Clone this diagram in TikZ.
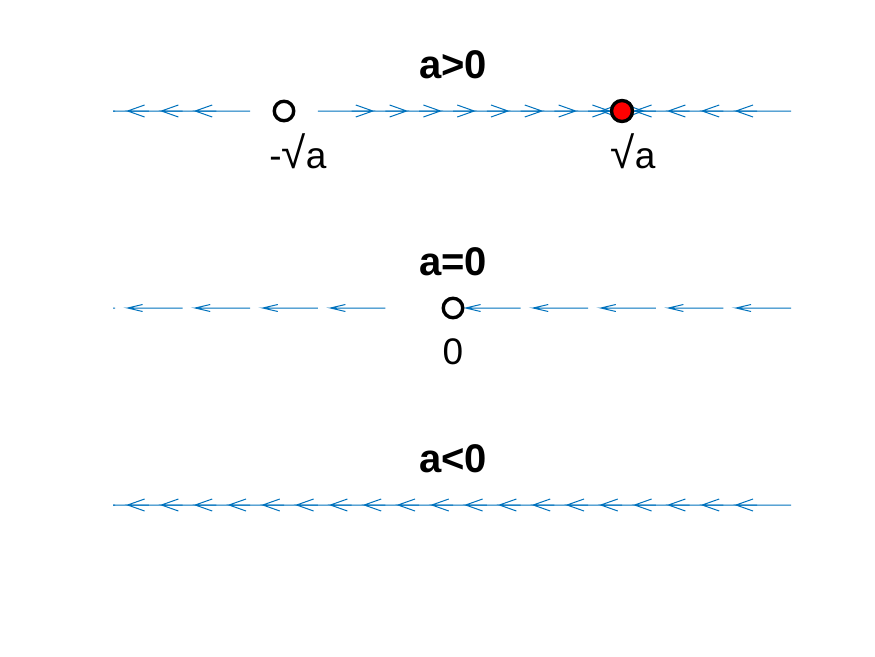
\documentclass[tikz,border=0pt]{standalone}
\usepackage{fontspec}
\setmainfont{Liberation Sans}
\definecolor{qblue}{RGB}{0,114,189}
\definecolor{fpred}{RGB}{255,0,0}
\tikzset{
  quiv/.style={draw=qblue, line width=1pt, line cap=butt},
  fixedopen/.style={circle, draw=black, line width=3.4pt, minimum size=19.5pt, inner sep=0pt},
  fixedfull/.style={circle, draw=black, fill=fpred, line width=3.4pt, minimum size=21pt, inner sep=0pt},
  ttl/.style={font=\fontsize{40}{46}\selectfont\bfseries, anchor=base, inner sep=0pt},
  lbl/.style={font=\fontsize{37}{44}\selectfont, anchor=base, inner sep=0pt}
}
\newcommand\surdsym{{\fontsize{44}{50}\selectfont √}}
% base x, y, direction (+1 right, -1 left), head length, head half-width
\newcommand\qarr[5]{%
  \draw[quiv] (#1,#2) -- ++({#3*55},0) -- ++({-#3*#4},#5) ++({#3*#4},{-#5}) -- ++({-#3*#4},{-#5});}
\begin{document}
\begin{tikzpicture}[x=1pt,y=-1pt]
\fill[white] (0,0) rectangle (875,656);
\useasboundingbox (0,0) rectangle (875,656);
\begin{scope}
  \clip (113,0) rectangle (793,656);
  % a>0
  \foreach \k in {0,...,4,16,17,18,19,20} {\qarr{115+33.8*\k}{111}{-1}{17}{6}}
  \foreach \k in {6,...,14} {\qarr{115+33.8*\k}{111}{1}{17}{6}}
  % a=0
  \foreach \k in {0,...,4,6,7,8,9,10} {\qarr{115+67.6*\k}{308}{-1}{15}{3.5}}
  % a<0
  \foreach \k in {0,...,20} {\qarr{115+33.8*\k}{505}{-1}{17}{6}}
\end{scope}
\node[fixedopen] (m1) at (284,111) {};
\node[fixedfull] (p1) at (622,111) {};
\node[fixedopen] (z0) at (453,308) {};
\node[ttl] (t1) at (453,78) {a>0};
\node[ttl] (t2) at (453,275) {a=0};
\node[ttl] (t3) at (453,472) {a<0};
\node[lbl] (l1) at (298,168) {-\surdsym a};
\node[lbl] (l2) at (633,168) {\surdsym a};
\node[lbl] (l3) at (453,364) {0};
\end{tikzpicture}
\end{document}
